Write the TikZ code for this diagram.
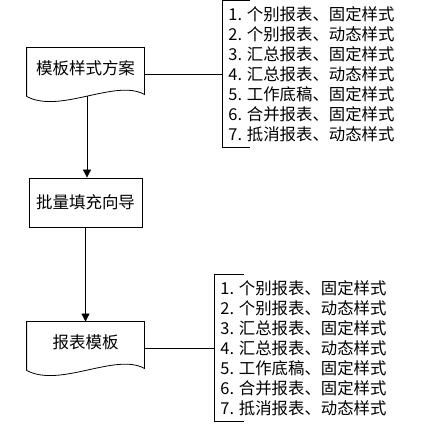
\documentclass[tikz,border=0pt]{standalone}
\usepackage{fontspec}
\newfontfamily\cjk{Noto Sans CJK SC}
\usetikzlibrary{arrows.meta}

% document shape: wavy bottom under a named node
\newcommand{\docwave}[1]{%
  \draw ([yshift=-8pt]#1.south west) -- (#1.north west) -- (#1.north east) -- ([yshift=-6pt]#1.south east)
    .. controls +(-29,-16) and +(33,18) .. coordinate[pos=.5] (#1-w) ([yshift=-8pt]#1.south west);}

\begin{document}
\begin{tikzpicture}[x=1pt, y=-1pt, line width=0.8pt,
    docnode/.style={minimum width=117pt, minimum height=40pt, inner sep=0pt, font=\fontsize{16.5}{20}\cjk},
    procnode/.style={draw, minimum width=113pt, minimum height=49pt, inner sep=0pt, font=\fontsize{16.5}{20}\cjk},
    listnode/.style={minimum height=146pt, inner xsep=6pt, inner ysep=0pt, align=left, anchor=west, font=\fontsize{16.4}{20}\cjk},
    flow/.style={-{Triangle[width=8pt,length=8pt]}}]
    \useasboundingbox (0,0) rectangle (429,427);
    % Flow boxes
    \node[docnode] (tpl) at (85.5,68) {模板样式方案};
    \node[procnode] (batch) at (85.5,202.5) {批量填充向导};
    \node[docnode] (rpt) at (85.5,342) {报表模板};
    \docwave{tpl}
    \docwave{rpt}
    % Flow arrows
    \draw[flow] (tpl-w) -- (tpl-w |- batch.north);
    \draw[flow] (batch.south) -- (rpt.north);
    % Style lists
    \node[listnode] (tpllst) at (222,74) {1. 个别报表、固定样式\\2. 个别报表、动态样式\\3. 汇总报表、固定样式\\4. 汇总报表、动态样式\\5. 工作底稿、固定样式\\6. 合并报表、固定样式\\7. 抵消报表、动态样式};
    \node[listnode] (rptlst) at (214,348) {1. 个别报表、固定样式\\2. 个别报表、动态样式\\3. 汇总报表、固定样式\\4. 汇总报表、动态样式\\5. 工作底稿、固定样式\\6. 合并报表、固定样式\\7. 抵消报表、动态样式};
    \draw ([xshift=28pt]tpllst.north west) -- (tpllst.north west) -- (tpllst.south west) -- ++(28,0);
    \draw ([xshift=30pt]rptlst.north west) -- (rptlst.north west) -- (rptlst.south west) -- ++(30,0);
    % Connectors
    \draw (tpllst.west) -- (tpllst.west -| tpl.east);
    \draw (rptlst.west) -- (rptlst.west -| rpt.east);
\end{tikzpicture}
\end{document}
